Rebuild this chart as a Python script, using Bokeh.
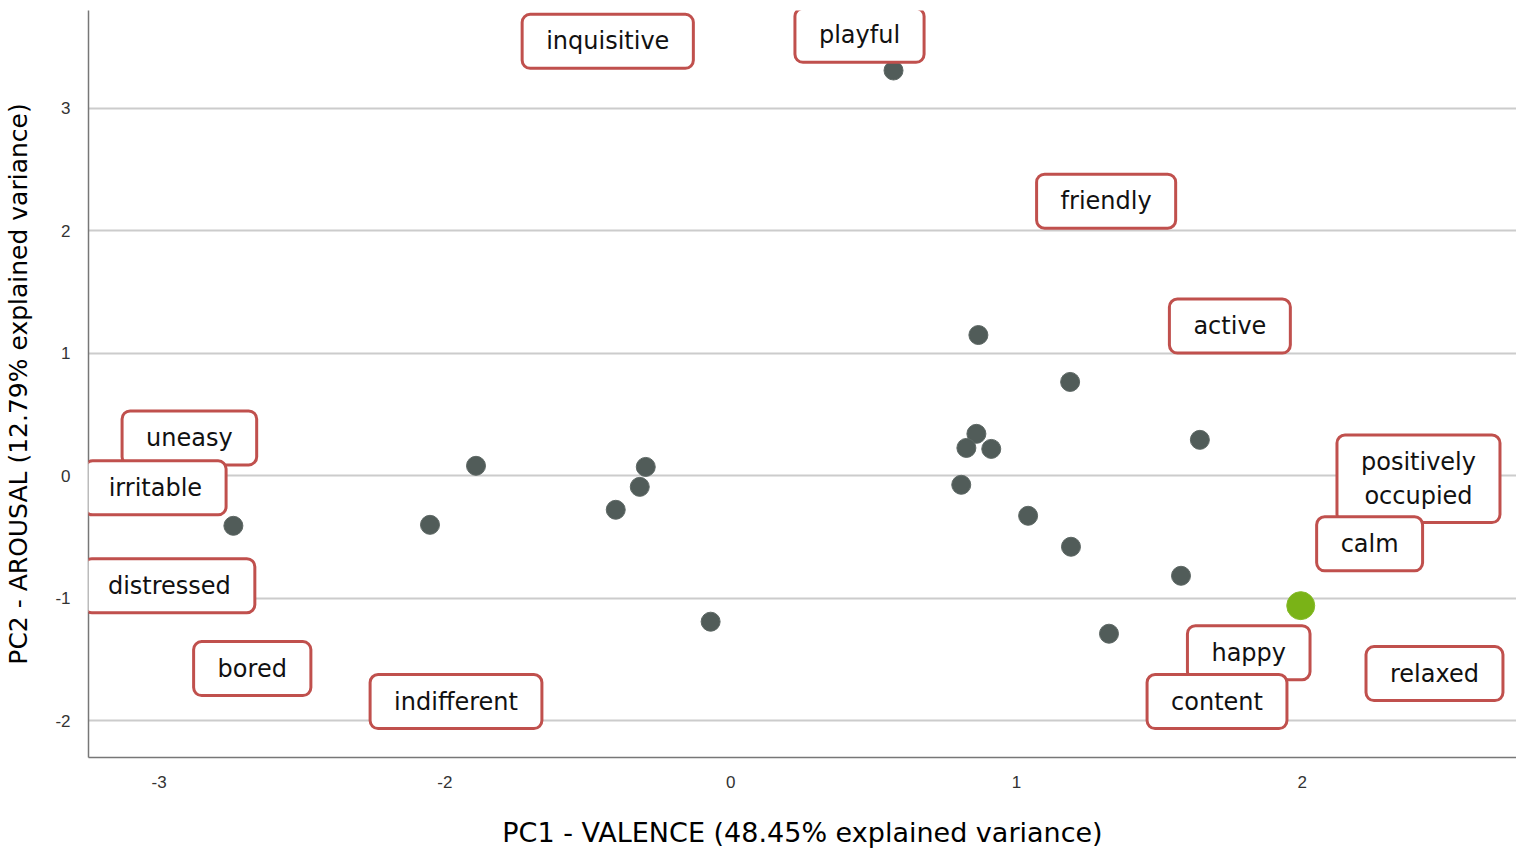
from bokeh.plotting import figure
from bokeh.models import Label, FixedTicker, Range1d
from bokeh.embed import file_html
from bokeh.resources import INLINE

# Gray observation points (PC1, PC2)
pc1 = [0.570, 0.867, 1.188, 1.642, 0.860, 0.825, 0.912, 0.807, 1.041, 1.191,
       1.576, 1.324, -0.070, -0.402, -0.318, -0.297, -0.891, -1.052, -1.740]
pc2 = [3.31, 1.15, 0.767, 0.294, 0.343, 0.228, 0.220, -0.073, -0.326, -0.579,
       -0.816, -1.289, -1.191, -0.277, -0.090, 0.073, 0.082, -0.400, -0.408]

# Highlighted point
hi_pc1 = [1.995]
hi_pc2 = [-1.060]

# Emotion term labels and their positions in PC space
terms = ["inquisitive", "playful", "friendly", "active", "uneasy", "irritable",
         "distressed", "bored", "indifferent", "positively\noccupied", "calm",
         "happy", "content", "relaxed"]
term_x = [-0.430, 0.451, 1.314, 1.747, -1.894, -2.013, -1.964, -1.674, -0.961,
          2.407, 2.236, 1.813, 1.702, 2.463]
term_y = [3.548, 3.597, 2.243, 1.223, 0.310, -0.098, -0.897, -1.574, -1.843,
          -0.024, -0.555, -1.444, -1.843, -1.615]

x_ticks = [-2, -1, 0, 1, 2]
x_tick_labels = ["-3", "-2", "0", "1", "2"]
y_ticks = [-2, -1, 0, 1, 2, 3]
y_tick_labels = ["-2", "-1", "0", "1", "2", "3"]

p = figure(width=1516, height=850, output_backend="svg", toolbar_location=None,
           x_range=Range1d(-2.247, 2.75), y_range=Range1d(-2.30, 3.80),
           min_border_left=88, min_border_right=0, min_border_top=10,
           min_border_bottom=93)
p.outline_line_color = None
p.background_fill_color = "white"
p.border_fill_color = "white"

p.xgrid.grid_line_color = None
p.ygrid.grid_line_color = "#cccccc"
p.ygrid.grid_line_width = 2

for ax in (p.xaxis[0], p.yaxis[0]):
    ax.major_tick_line_color = None
    ax.minor_tick_line_color = None
    ax.axis_line_color = "#777777"
    ax.axis_line_width = 1.5
    ax.major_label_text_font = "Liberation Sans"
    ax.major_label_text_font_size = "17px"
    ax.major_label_text_color = "#333333"
    ax.axis_label_text_font_style = "normal"
    ax.axis_label_text_color = "#000000"

p.xaxis.ticker = FixedTicker(ticks=x_ticks)
p.xaxis.major_label_overrides = {t: l for t, l in zip(x_ticks, x_tick_labels)}
p.yaxis.ticker = FixedTicker(ticks=y_ticks)
p.yaxis.major_label_overrides = {t: l for t, l in zip(y_ticks, y_tick_labels)}
p.xaxis.major_label_standoff = 12
p.yaxis.major_label_standoff = 12

p.xaxis.axis_label = "PC1 - VALENCE (48.45% explained variance)"
p.xaxis.axis_label_text_font = "DejaVu Sans"
p.xaxis.axis_label_text_font_size = "27px"
p.xaxis.axis_label_standoff = 26

p.yaxis.axis_label = "PC2 - AROUSAL (12.79% explained variance)"
p.yaxis.axis_label_text_font = "DejaVu Sans"
p.yaxis.axis_label_text_font_size = "25px"
p.yaxis.axis_label_standoff = 19

p.scatter(pc1, pc2, size=19, fill_color="#515c59", line_color="#5e6865",
          line_width=1)
p.scatter(hi_pc1, hi_pc2, size=28, fill_color="#7ab317", line_color="#86bb2a",
          line_width=1)

for t, lx, ly in zip(terms, term_x, term_y):
    p.add_layout(Label(x=lx, y=ly, text=t, text_align="center",
                       text_baseline="middle", text_font="DejaVu Sans",
                       text_font_size="24px", text_color="#111111",
                       background_fill_color="white",
                       border_line_color="#c0504d", border_line_width=3,
                       border_radius=8, padding=(24, 13)))

open("out.html", "w").write(file_html(p, INLINE))
